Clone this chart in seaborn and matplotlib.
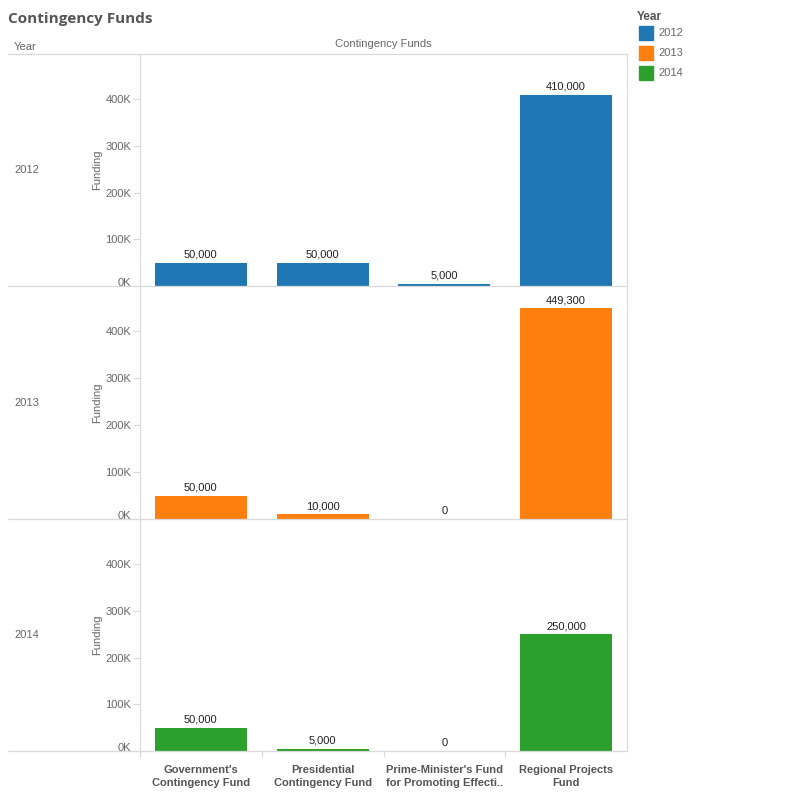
import numpy as np
import pandas as pd
import seaborn as sns
import matplotlib.pyplot as plt
from matplotlib.lines import Line2D
from matplotlib.patches import Rectangle
from matplotlib.ticker import FuncFormatter, FixedLocator

# datos
fondos = ["Government's\nContingency Fund",
          "Presidential\nContingency Fund",
          "Prime-Minister's Fund\nfor Promoting Effecti..",
          "Regional Projects\nFund"]
years = ["2012", "2013", "2014"]
funding_2012 = [50000, 50000, 5000, 410000]
funding_2013 = [50000, 10000, 0, 449300]
funding_2014 = [50000, 5000, 0, 250000]
colores = ["#1f77b4", "#ff7f0e", "#2ca02c"]

df = pd.DataFrame({
    "Fund": fondos * 3,
    "Year": np.repeat(years, len(fondos)),
    "Funding": funding_2012 + funding_2013 + funding_2014,
})

sns.set_theme(style="white")
plt.rcParams["font.family"] = ["Liberation Sans", "DejaVu Sans"]

W = H = 799
fig = plt.figure(figsize=(W / 100, H / 100), dpi=100)
gris_linea = "#d9d9d9"
gris_texto = "#666666"

def fx(px):
    return px / W

def fy(py):
    return 1 - py / H

row_edges = [54, 286, 519, 751]
x0, x1 = 140, 627
ymax = 497000

for i, year in enumerate(years):
    top, bot = row_edges[i], row_edges[i + 1]
    ax = fig.add_axes([fx(x0), fy(bot), fx(x1 - x0), (bot - top) / H])
    sub = df[df["Year"] == year]
    sns.barplot(data=sub, x="Fund", y="Funding", color=colores[i], width=0.755,
                saturation=1, ax=ax, errorbar=None, linewidth=0, edgecolor="none")
    ax.set_ylim(0, ymax)
    ax.set_xlim(-0.5, len(fondos) - 0.5)
    vals = sub["Funding"].tolist()
    ax.bar_label(ax.containers[0], labels=[f"{v:,.0f}" for v in vals],
                 padding=2, fontsize=8, color="#222222")
    ax.yaxis.set_major_locator(FixedLocator([0, 100000, 200000, 300000, 400000]))
    ax.yaxis.set_major_formatter(FuncFormatter(lambda v, p: f"{v / 1000:.0f}K"))
    ax.tick_params(axis="y", left=True, length=5, width=0.8, color=gris_linea,
                   labelsize=8, labelcolor=gris_texto, pad=1.2)
    ax.get_yticklabels()[0].set_verticalalignment("baseline")
    ax.set_ylabel("Funding", fontsize=8, color=gris_texto)
    ax.yaxis.set_label_coords(-0.078, 0.5)
    ax.set_xlabel("")
    for s in ["top", "bottom"]:
        ax.spines[s].set_visible(False)
    for s in ["left", "right"]:
        ax.spines[s].set_color(gris_linea)
        ax.spines[s].set_linewidth(0.8)
    if i < 2:
        ax.set_xticks([])
    else:
        ax.set_xticks(range(len(fondos)))
        ax.set_xticklabels(fondos, fontsize=8, fontweight="bold", color="#555555",
                           linespacing=1.35)
        ax.tick_params(axis="x", bottom=False, pad=4)
        ax.set_xticks(np.arange(-0.5, len(fondos) - 0.5, 1), minor=True)
        ax.tick_params(axis="x", which="minor", bottom=True, length=4.5, width=0.8,
                       color=gris_linea)
    fig.text(fx(14), fy((top + bot) / 2), year, fontsize=8, color=gris_texto,
             va="center", ha="left")

# líneas de separación tipo Tableau
for y in row_edges:
    fig.add_artist(Line2D([fx(8), fx(x1)], [fy(y), fy(y)], color=gris_linea, lw=0.9))

fig.text(fx(8), fy(19), "Contingency Funds", fontsize=11, fontweight="bold",
         color="#555555", va="center", ha="left", family=["Open Sans", "DejaVu Sans"])
fig.text(fx(14), fy(47), "Year", fontsize=8, color=gris_texto, va="center")
fig.text(fx((x0 + x1) / 2), fy(44), "Contingency Funds", fontsize=8,
         color=gris_texto, va="center", ha="center")

# leyenda
fig.text(fx(637), fy(17), "Year", fontsize=8.5, fontweight="bold", color="#555555",
         va="center")
for i, year in enumerate(years):
    yc = 33 + i * 20
    fig.add_artist(Rectangle((fx(639), fy(yc + 7)), fx(14), 14 / H,
                             color=colores[i], transform=fig.transFigure))
    fig.text(fx(658), fy(yc), year, fontsize=8, color=gris_texto, va="center")

fig.savefig("out.png", dpi=100)
